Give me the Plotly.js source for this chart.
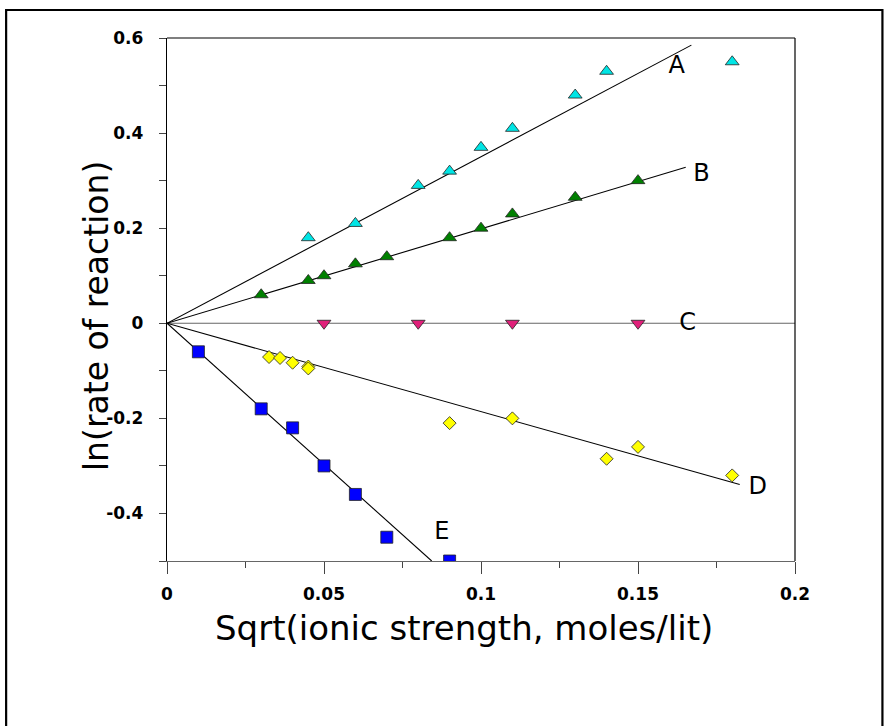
<!DOCTYPE html>
<html>
<head>
<meta charset="utf-8">
<script src="https://cdn.plot.ly/plotly-3.0.1.min.js"></script>
<style>
html,body{margin:0;padding:0;background:#fff;}
#chart{width:888px;height:726px;}
</style>
</head>
<body>
<div id="chart"></div>
<script>
// ---- data ----
const seriesA_x = [0.045, 0.06, 0.08, 0.09, 0.10, 0.11, 0.13, 0.14, 0.18];
const seriesA_y = [0.18, 0.21, 0.29, 0.32, 0.37, 0.41, 0.48, 0.53, 0.55];

const seriesB_x = [0.03, 0.045, 0.05, 0.06, 0.07, 0.09, 0.10, 0.11, 0.13, 0.15];
const seriesB_y = [0.06, 0.09, 0.10, 0.125, 0.14, 0.18, 0.20, 0.23, 0.265, 0.30];

const seriesC_x = [0.05, 0.08, 0.11, 0.15];
const seriesC_y = [0.0, 0.0, 0.0, 0.0];

const seriesD_x = [0.0325, 0.036, 0.04, 0.045, 0.045, 0.09, 0.11, 0.14, 0.15, 0.18];
const seriesD_y = [-0.071, -0.073, -0.083, -0.091, -0.095, -0.21, -0.20, -0.285, -0.26, -0.32];

const seriesE_x = [0.01, 0.03, 0.04, 0.05, 0.06, 0.07, 0.09];
const seriesE_y = [-0.06, -0.18, -0.22, -0.30, -0.36, -0.45, -0.50];

// fitted lines (end points)
const fitA_x = [0, 0.167];  const fitA_y = [0, 0.585];
const fitB_x = [0, 0.1652]; const fitB_y = [0, 0.328];
const fitC_x = [0, 0.2];    const fitC_y = [0, 0];
const fitD_x = [0, 0.1824]; const fitD_y = [0, -0.339];
const fitE_x = [0, 0.0843]; const fitE_y = [0, -0.5];

// curve labels
const labelText = ['A', 'B', 'C', 'D', 'E'];
const labelX = [0.1623, 0.1702, 0.1658, 0.1881, 0.0875];
const labelY = [0.539, 0.312, -0.001, -0.346, -0.441];

// tick labels and titles
const xTickVals = [0, 0.05, 0.1, 0.15, 0.2];
const xTickText = ['0', '0.05', '0.1', '0.15', '0.2'];
const yTickVals = [-0.4, -0.2, 0, 0.2, 0.4, 0.6];
const yTickText = ['-0.4', '-0.2', '0', '0.2', '0.4', '0.6'];
const xTitle = 'Sqrt(ionic strength, moles/lit)';
const yTitle = 'ln(rate of reaction)';

// ---- chart ----
const FONT = 'DejaVu Sans, Liberation Sans, Arial, sans-serif';
const mline = {color: '#222', width: 0.8};

function fit(x, y, color) {
  return {x: x, y: y, mode: 'lines', type: 'scatter', hoverinfo: 'skip',
          line: {color: color, width: 1.1}, showlegend: false};
}
function pts(x, y, symbol, color, size) {
  return {x: x, y: y, mode: 'markers', type: 'scatter', showlegend: false,
          marker: {symbol: symbol, color: color, size: size, line: mline}};
}

const traces = [
  fit(fitC_x, fitC_y, '#666'),
  fit(fitA_x, fitA_y, '#000'),
  fit(fitB_x, fitB_y, '#000'),
  fit(fitD_x, fitD_y, '#000'),
  fit(fitE_x, fitE_y, '#000'),
  pts(seriesA_x, seriesA_y, 'triangle-up', '#00e5e5', 12),
  pts(seriesB_x, seriesB_y, 'triangle-up', '#008000', 12),
  pts(seriesC_x, seriesC_y, 'triangle-down', '#e0207a', 12),
  pts(seriesD_x, seriesD_y, 'diamond', '#ffff00', 10),
  pts(seriesE_x, seriesE_y, 'square', '#0000ff', 12),
  {x: labelX, y: labelY, text: labelText, mode: 'text', type: 'scatter',
   textposition: 'middle center', showlegend: false, hoverinfo: 'skip',
   textfont: {family: FONT, size: 24, color: '#000'}}
];

const L = 167, R = 888 - 795.5, T = 38, B = 726 - 561;
const pw = 888 - L - R, ph = 726 - T - B;
function px2paperX(p) { return (p - L) / pw; }
function px2paperY(p) { return (726 - B - p) / ph; }

const layout = {
  width: 888, height: 726,
  margin: {l: L, r: R, t: T, b: B, pad: 0},
  paper_bgcolor: '#fff', plot_bgcolor: '#fff',
  showlegend: false,
  xaxis: {
    range: [0, 0.2], showgrid: false, zeroline: false,
    showline: true, linecolor: '#666', linewidth: 1.2,
    tickmode: 'array', tickvals: xTickVals, ticktext: xTickText,
    ticks: 'outside', ticklen: 12, tickwidth: 1, tickcolor: '#444',
    ticklabelstandoff: 5,
    minor: {dtick: 0.025, tick0: 0, ticks: 'outside', ticklen: 6, tickwidth: 1, tickcolor: '#444', showgrid: false},
    tickfont: {family: FONT, size: 17, weight: 'bold', color: '#000'}
  },
  yaxis: {
    range: [-0.5, 0.6], showgrid: false, zeroline: false,
    showline: true, linecolor: '#000', linewidth: 1.2,
    tickmode: 'array', tickvals: yTickVals, ticktext: yTickText,
    ticks: 'outside', ticklen: 7, tickwidth: 1, tickcolor: '#444',
    ticklabelstandoff: 12,
    minor: {dtick: 0.2, tick0: 0.1, ticks: 'outside', ticklen: 7, tickwidth: 1, tickcolor: '#444', showgrid: false},
    tickfont: {family: FONT, size: 17, weight: 'bold', color: '#000'}
  },
  annotations: [
    {text: xTitle, xref: 'paper', yref: 'paper', x: px2paperX(464), y: px2paperY(628),
     xanchor: 'center', yanchor: 'middle', showarrow: false,
     font: {family: FONT, size: 34, color: '#000'}},
    {text: yTitle, xref: 'paper', yref: 'paper', x: px2paperX(97), y: px2paperY(316),
     xanchor: 'center', yanchor: 'middle', showarrow: false, textangle: -90,
     font: {family: FONT, size: 33, color: '#000'}}
  ],
  shapes: [
    // top and right frame of the plot area
    {type: 'line', xref: 'paper', yref: 'paper', x0: 0, x1: 1, y0: 1, y1: 1, line: {color: '#000', width: 1.2}},
    {type: 'line', xref: 'paper', yref: 'paper', x0: 1, x1: 1, y0: 0, y1: 1, line: {color: '#000', width: 1.2}},
    // outer figure frame
    {type: 'rect', xref: 'paper', yref: 'paper',
     x0: px2paperX(6), x1: px2paperX(883), y0: px2paperY(740), y1: px2paperY(10),
     line: {color: '#000', width: 2.2}}
  ]
};

Plotly.newPlot('chart', traces, layout, {staticPlot: true, displayModeBar: false});
</script>
</body>
</html>
